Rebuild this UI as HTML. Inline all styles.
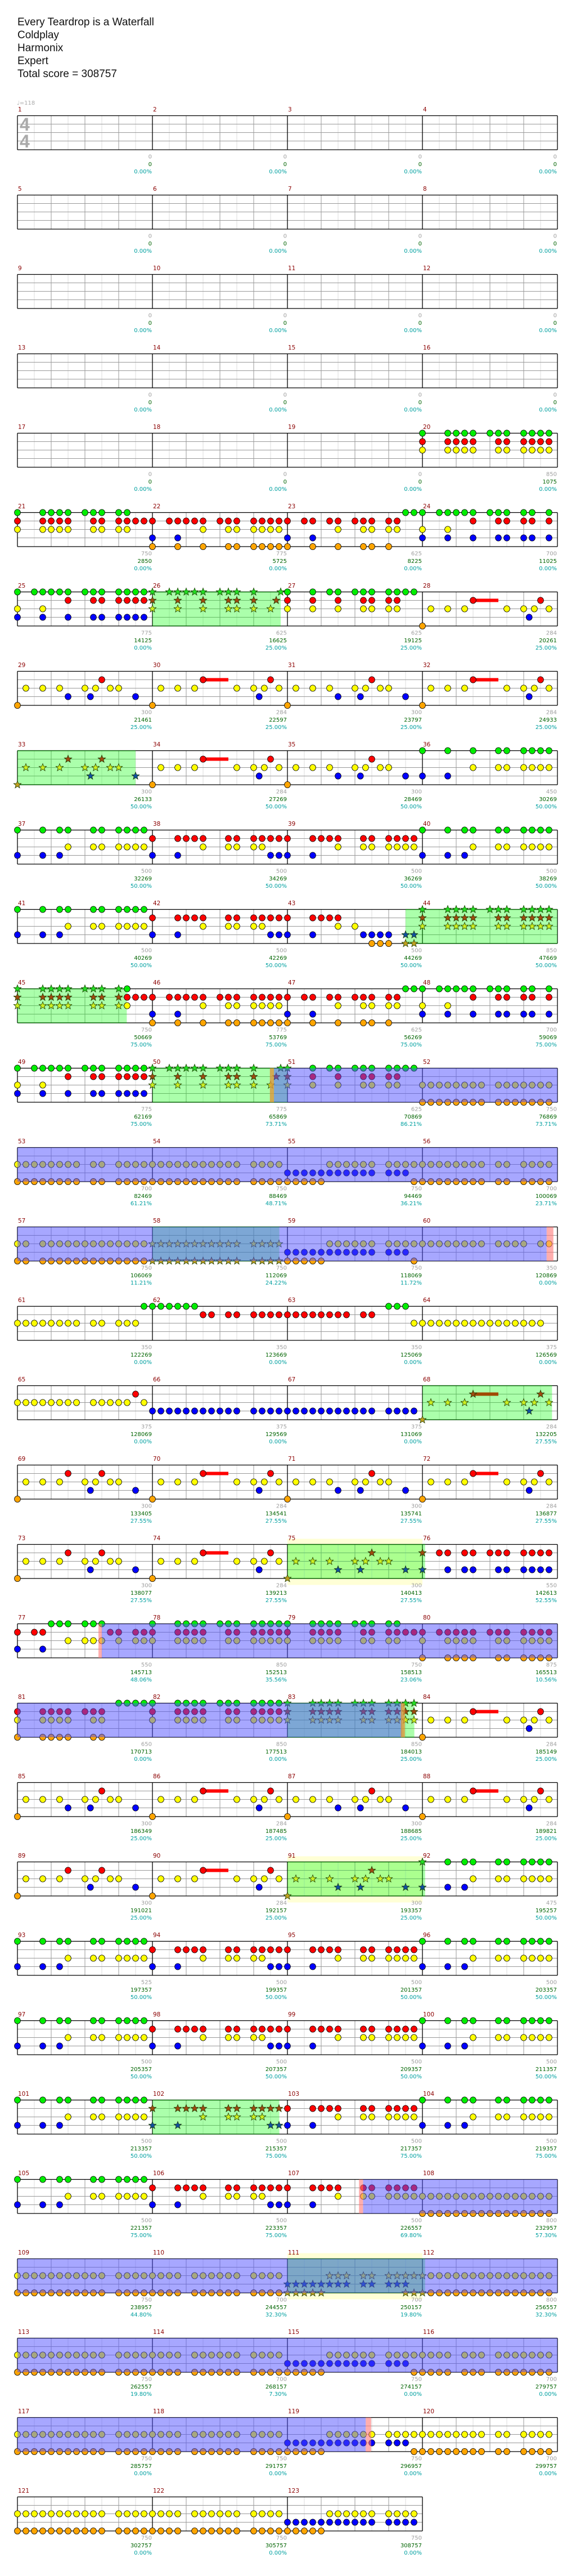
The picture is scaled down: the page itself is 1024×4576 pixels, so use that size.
<!DOCTYPE html>
<html><head><meta charset="utf-8">
<style>
html,body{margin:0;padding:0;background:#fff;}
body{width:1024px;height:4576px;overflow:hidden;position:relative;font-family:"Liberation Sans",sans-serif;}
#hdr{position:absolute;left:31px;top:28px;font-size:19px;line-height:23px;color:#111;}
#hdr div{white-space:nowrap;}
svg{position:absolute;left:0;top:0;}
</style></head>
<body>
<div id="hdr">
<div>Every Teardrop is a Waterfall</div>
<div>Coldplay</div>
<div>Harmonix</div>
<div>Expert</div>
<div>Total score = 308757</div>
</div>
<svg id="chart" width="1024" height="4576" xmlns="http://www.w3.org/2000/svg"></svg>
<script>
// ---- data ----
const baseScores = [0,0,0,0,0,0,0,0,0,0,0,0,0,0,0,0,0,0,0,850,
750,775,625,700,775,625,625,284,300,284,300,284,300,284,300,450,500,500,500,500,
500,500,500,850,750,775,625,700,775,775,625,750,700,750,750,700,750,750,750,350,
350,350,350,375,375,375,375,284,300,284,300,284,300,284,300,550,550,850,750,875,
650,850,850,284,300,284,300,284,300,284,300,475,525,500,500,500,500,500,500,500,
500,500,500,500,500,500,500,800,750,700,700,800,750,700,750,700,750,750,750,700,
750,750,750];
const cumScores = [0,0,0,0,0,0,0,0,0,0,0,0,0,0,0,0,0,0,0,1075,
2850,5725,8225,11025,14125,16625,19125,20261,21461,22597,23797,24933,26133,27269,28469,30269,32269,34269,36269,38269,
40269,42269,44269,47669,50669,53769,56269,59069,62169,65869,70869,76869,82469,88469,94469,100069,106069,112069,118069,120869,
122269,123669,125069,126569,128069,129569,131069,132205,133405,134541,135741,136877,138077,139213,140413,142613,145713,152513,158513,165513,
170713,177513,184013,185149,186349,187485,188685,189821,191021,192157,193357,195257,197357,199357,201357,203357,205357,207357,209357,211357,
213357,215357,217357,219357,221357,223357,226557,232957,238957,244557,250157,256557,262557,268157,274157,279757,285757,291757,296957,299757,
302757,305757,308757];
const pctValues = [0,0,0,0,0,0,0,0,0,0,0,0,0,0,0,0,0,0,0,0,
0,0,0,0,0,25,25,25,25,25,25,25,50,50,50,50,50,50,50,50,
50,50,50,50,75,75,75,75,75,73.71,86.21,73.71,61.21,48.71,36.21,23.71,11.21,24.22,11.72,0,
0,0,0,0,0,0,0,27.55,27.55,27.55,27.55,27.55,27.55,27.55,27.55,52.55,48.06,35.56,23.06,10.56,
0,0,25,25,25,25,25,25,25,25,25,50,50,50,50,50,50,50,50,50,
50,75,75,75,75,75,69.80,57.30,44.80,32.30,19.80,32.30,19.80,7.30,0,0,0,0,0,0,
0,0,0];
const measurePatterns = [
"E","E","E","E","E","E","E","E","E","E","E","E","E","E","E","E","E","E","E","C",
"C2","D1","D2","D3","D4","D5","D6","H2","H1","H2","H1","H2","H1b","H2","H1","V5","V1","V2","V3","V1",
"V1","V2","V6","C","C2","D1","D2","D3","D4","D5","D6","K1","K53","K54","K55","K53","K57","K54","K55","K60",
"K61","K62","K63","K64","K65","K66","K66","H2","H1b","H2","H1","H2","H1b","H2","H1","K76","K77","C","C2","K80",
"K81","C","C","H2","H1","H2","H1","H2","H1b","H2","H1","V1","V1","V2","V3","V1","V1","V2","V3","V1",
"V1","V2","V3","V1","V1","V2","V3","K108","K54","K110","K111","K108","K54","K110","K55","K116","K54","K110","K55","K53",
"K54","K110","K123"];
const starRanges = [[26,26.95],[33,33.875],[43.875,45.81],[50,51],[58,58.94],[68,68.96],[75,76.02],[83,83.94],[91,92.02],[102,102.94],[111,112.02]];
const overdriveRanges = [[50.9,60.92],[77.625,83.85],[107.56,119.58]];
const haloRanges = [[75,76],[91,92],[111,112]];
const pinkRanges = [[60.92,60.97],[77.6,77.625],[107.53,107.56],[119.58,119.62]];
const orangeStripRanges = [[50.87,50.9],[83.84,83.87]];
const sustains = {"H2":[[1,6,9]]};

function R(a,b){const r=[];for(let i=a;i<=b;i++)r.push(i);return r;}
const P = {
E:{},
C:{G:[0,3,4,5,6,8,9,10,12,13,14,15],R:[0,3,4,5,6,9,10,12,13,14,15],Y:[0,3,4,5,6,9,10,12,13,14,15]},
C2:{G:[0,3,4,5,6,8,9,10,12,13],R:[0,3,4,5,6,9,10,12,13,14,15],Y:[0,3,4,5,6,9,10,12,13]},
D1:{R:[0,2,3,4,5,6,8,9,10,12,13,14,15],Y:[6,9,10,12,13,14,15],B:[0,3],O:[0,3,6,9,10,12,13,14,15]},
D2:{R:[0,2,3,5,6,8,9,10,12,13],Y:[6,9,10,12,13],B:[0,3],O:[0,3,6,9,10,12],G:[14,15]},
D3:{G:[0,2,3,4,5,6,8,9,10,12,13,15],R:[6,9,10,12,13,15],Y:[0,3],B:[0,3,6,9,10,12,13,15]},
D4:{G:[0,2,3,4,5,6,8,9,10,12,13,14,15],R:[6,9,10,12,13,14,15],Y:[0,3],B:[0,3,6,9,10,12,13,14,15]},
D5:{G:[0,2,3,4,5,6,8,9,10,12,15.2],R:[0,3,6,9,10,12,14.67],Y:[0,3,6,9,10,12,14]},
D6:{G:[0,3,5,6,8,9,10,12,13,14,15],R:[0,3,6,9,10,12,13],Y:[0,3,6,9,10,12,13]},
H1:{Y:[1,3,5,8,9.26,11,12],R:[10],B:[6,8.65,14],O:[0]},
H1b:{Y:[1,3,5,8,9.26,11,12],R:[6,10],B:[8.65,14],O:[0]},
H2:{Y:[1,3,5,10,12,13.26,15],R:[6,14],B:[12.65],O:[0]},
V1:{G:[0,3,5,6,9,10,12,13,14,15],Y:[6,9,10,12,13,14,15],B:[0,3,5]},
V2:{R:[0,3,4,5,6,9,10,12,13,14,15],Y:[6,9,10,12,13],B:[0,3,14,15]},
V3:{R:[0,3,4,5,6,9,10,12,13,14,15],Y:[6,9,10,12,13,14,15],B:[0,3]},
V5:{G:[0,3,6,9,10,12,13,14,15],Y:[6,9,10,12,13,14,15],B:[0,3]},
V6:{R:[0,3,4,5,6],Y:[6,8],B:[0,3,9,10,11,12,14,15],O:[10,11,12,14,15]},
K1:{Y:R(0,7).concat(R(9,15)),O:R(0,7).concat(R(9,15))},
K53:{Y:R(0,7).concat([9,10],R(12,15)),O:R(0,7).concat([9,10],R(12,15))},
K54:{Y:R(0,10).concat(R(12,15)),O:R(0,10).concat(R(12,15))},
K55:{B:R(0,10).concat([12,13,14]),Y:R(5,10).concat(R(12,15)),O:R(0,4).concat([15])},
K57:{Y:[0,1].concat(R(3,15)),O:[0,1].concat(R(3,15))},
K60:{Y:R(0,7).concat(R(9,12),[14,15])},
K61:{Y:R(0,7).concat([9,10,12,13,14]),G:[15]},
K62:{G:R(0,5),R:[6,7,9,10].concat(R(12,15))},
K63:{R:R(0,7).concat([9,10]),G:[12,13,14],Y:[15]},
K64:{Y:R(0,14)},
K65:{Y:R(0,7).concat(R(9,13),[15]),R:[14]},
K66:{B:R(0,10).concat(R(12,15))},
K76:{R:[0,2,3,5,6,8,9,10,12,13,14,15],B:[0,3,5,6,9,10,12,13,14,15]},
K77:{R:[0,2,3,11,12,14,15],B:[0,3],G:[4,5,6,8,9,10],Y:[6,8,9,10,12,14,15]},
K80:{R:[0,2,3,4,5,6,8,9,10,12,13,14,15],Y:[0,3,4,5,6,9,10,12,13,14,15],O:[0,3,4,5,6,9,10,12,13,14,15]},
K81:{R:[0,3,4,5,6,8,9,10],Y:[0,3,4,5,6,9,10],O:[0,3,4,5,6,9,10],G:[12,13,14,15]},
K108:{Y:R(0,15),O:R(0,15)},
K110:{Y:R(0,3).concat(R(5,10),R(12,15)),O:R(0,3).concat(R(5,10),R(12,15))},
K111:{Y:[5,6,7,9,10].concat(R(12,15)),B:R(0,7).concat([9,10,12,13,14]),O:R(0,4).concat([14,15])},
K116:{Y:R(0,3).concat([5,6,7],R(9,15)),O:R(0,3).concat([5,6,7],R(9,15))},
K123:{Y:R(5,10).concat(R(12,15)),B:R(0,10).concat(R(12,15)),O:R(0,4)}
};

// ---- rendering ----
const NS="http://www.w3.org/2000/svg";
const svg=document.getElementById('chart');
const MW=240, X0=31, T0=205.5, ROWH=141;
const laneY=[0,15,30,45,60.5];
const lanes=["G","R","Y","B","O"];
const fillCol={G:"#00ee00",R:"#ff0000",Y:"#ffff00",B:"#0000ff",O:"#ffa500"};
const starCol={G:"#22dd22",R:"#a04a10",Y:"#ccee22",B:"#1050a0",O:"#c0a020"};
const NM=123;
function xOf(m){return X0+((m-1)%4)*MW;}
function topOf(m){return T0+Math.floor((m-1)/4)*ROWH;}
function mk(tag,attrs,parent){const e=document.createElementNS(NS,tag);for(const k in attrs)e.setAttribute(k,attrs[k]);(parent||svg).appendChild(e);return e;}
function inRanges(v,rs){for(const r of rs){if(v>=r[0]-0.001&&v<=r[1])return true;}return false;}
function eachSeg(ranges,fn){for(const r of ranges){for(let m=Math.floor(r[0]);m<Math.ceil(r[1]);m++){if(m<1||m>NM)continue;const a=Math.max(r[0],m)-m,b=Math.min(r[1],m+1)-m;if(b>a)fn(m,a,b);}}}

const gHalo=mk('g',{});
const gGrid=mk('g',{});
const gStar=mk('g',{});
const gNotes=mk('g',{});
const gOD=mk('g',{});
const gText=mk('g',{});

eachSeg(haloRanges,(m,a,b)=>{const T=topOf(m);mk('rect',{x:xOf(m)+a*MW,y:T-10,width:(b-a)*MW,height:82,fill:'#ffffd6'},gHalo);});

for(let m=1;m<=NM;m++){
  const x=xOf(m),T=topOf(m);
  for(let k=1;k<8;k++){mk('line',{x1:x+k*30,y1:T,x2:x+k*30,y2:T+60.5,stroke:(k%2?'#dddddd':'#999999'),'stroke-width':1},gGrid);}
  for(let l=1;l<4;l++){mk('line',{x1:x,y1:T+laneY[l],x2:x+MW,y2:T+laneY[l],stroke:'#999999','stroke-width':1},gGrid);}
  mk('line',{x1:x,y1:T,x2:x+MW,y2:T,stroke:'#000','stroke-width':1.3},gGrid);
  mk('line',{x1:x,y1:T+60.5,x2:x+MW,y2:T+60.5,stroke:'#000','stroke-width':1.3},gGrid);
  mk('line',{x1:x,y1:T,x2:x,y2:T+60.5,stroke:'#000','stroke-width':1.3},gGrid);
  if(m%4===0||m===NM)mk('line',{x1:x+MW,y1:T,x2:x+MW,y2:T+60.5,stroke:'#000','stroke-width':1.3},gGrid);
}
eachSeg(starRanges,(m,a,b)=>{const T=topOf(m);mk('rect',{x:xOf(m)+a*MW,y:T,width:(b-a)*MW,height:60.5,fill:'rgba(0,255,0,0.33)'},gStar);
  mk('line',{x1:xOf(m)+a*MW,y1:T,x2:xOf(m)+b*MW,y2:T,stroke:'#006000','stroke-width':1.3},gStar);
  mk('line',{x1:xOf(m)+a*MW,y1:T+60.5,x2:xOf(m)+b*MW,y2:T+60.5,stroke:'#006000','stroke-width':1.3},gStar);});

function starPath(cx,cy,r){let d='';for(let i=0;i<10;i++){const ang=-Math.PI/2+i*Math.PI/5;const rr=i%2?r*0.42:r;d+=(i?'L':'M')+(cx+rr*Math.cos(ang)).toFixed(2)+' '+(cy+rr*Math.sin(ang)).toFixed(2);}return d+'Z';}

for(let m=1;m<=NM;m++){
  const pat=P[measurePatterns[m-1]]||{};
  const x=xOf(m),T=topOf(m);
  (sustains[measurePatterns[m-1]]||[]).forEach(s=>{
    const st=inRanges(m+s[1]/16,starRanges);
    mk('rect',{x:x+s[1]*15,y:T+laneY[s[0]]-3,width:(s[2]-s[1])*15,height:6,fill:st?'#a04a00':'#ff0000'},gNotes);
  });
  lanes.forEach((ln,li)=>{
    (pat[ln]||[]).forEach(p=>{
      const cx=x+p*15, cy=T+laneY[li];
      const st=inRanges(m+p/16,starRanges);
      let e;
      if(st){e=mk('path',{d:starPath(cx,cy,7),fill:starCol[ln],stroke:'#1a3a00','stroke-width':0.8},gNotes);}
      else{e=mk('ellipse',{cx:cx,cy:cy,rx:5.4,ry:5.6,fill:fillCol[ln],stroke:'#000','stroke-width':0.8},gNotes);}
      
      
    });
  });
}
eachSeg(overdriveRanges,(m,a,b)=>{const T=topOf(m);mk('rect',{x:xOf(m)+a*MW,y:T,width:(b-a)*MW,height:60.5,fill:'rgba(80,80,255,0.5)'},gOD);});
eachSeg(pinkRanges,(m,a,b)=>{const T=topOf(m);mk('rect',{x:xOf(m)+a*MW,y:T,width:(b-a)*MW,height:60.5,fill:'rgba(255,120,120,0.6)'},gOD);});
eachSeg(orangeStripRanges,(m,a,b)=>{const T=topOf(m);mk('rect',{x:xOf(m)+a*MW,y:T,width:(b-a)*MW,height:60.5,fill:'rgba(220,150,60,0.8)'},gOD);});

function txt(s,x,y,attrs){const e=mk('text',Object.assign({x:x,y:y,'font-family':'"DejaVu Sans","Liberation Sans",sans-serif','font-size':10},attrs),gText);e.textContent=s;return e;}
for(let m=1;m<=NM;m++){
  const x=xOf(m),T=topOf(m),xe=x+MW-1;
  let e=txt(String(m),x+1,T-7.5,{fill:'#8b0000','font-size':10.5});
  
  
  e=txt(String(baseScores[m-1]),xe,T+76,{fill:'#a0a0a0','text-anchor':'end'});
  
  
  e=txt(String(cumScores[m-1]),xe,T+89.5,{fill:'#006400','text-anchor':'end'});
  
  
  e=txt(pctValues[m-1].toFixed(2)+'%',xe,T+102.5,{fill:'#00a0a0','text-anchor':'end'});
  
  
}
let t=txt('\u2669=118',30,186,{fill:'#aaaaaa','font-size':10});


t=txt('4',35,232,{fill:'#aaaaaa','font-size':32,'font-weight':'bold','font-family':'"Liberation Sans",sans-serif'});


t=txt('4',35,262,{fill:'#aaaaaa','font-size':32,'font-weight':'bold','font-family':'"Liberation Sans",sans-serif'});


</script>
</body></html>
